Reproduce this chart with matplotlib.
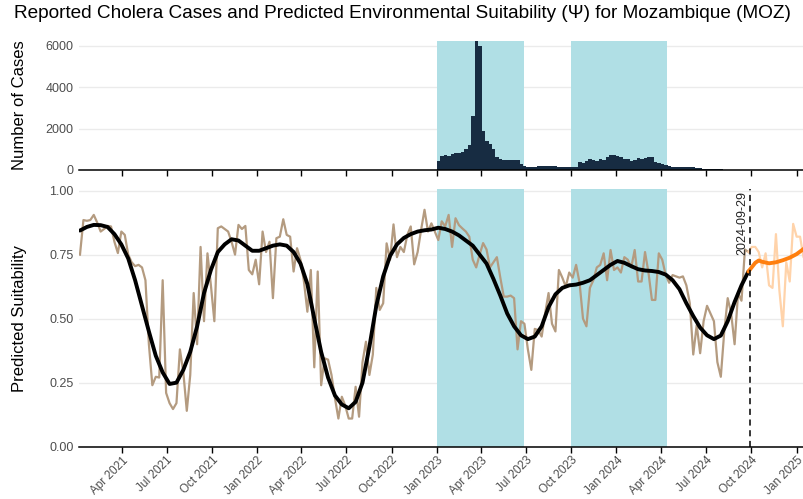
import numpy as np
import pandas as pd
import matplotlib
matplotlib.use("Agg")
import matplotlib.pyplot as plt
import matplotlib.dates as mdates

plt.rcParams['font.family'] = ['Liberation Sans', 'DejaVu Sans']

# weekly predicted suitability (observed period)
psi_obs = [
    0.75, 0.885, 0.882, 0.885, 0.905, 0.875, 0.84, 0.85, 0.862, 0.86,
    0.80, 0.756, 0.84, 0.827, 0.75, 0.72, 0.705, 0.71, 0.70, 0.65,
    0.40, 0.24, 0.273, 0.27, 0.65, 0.21, 0.17, 0.147, 0.17, 0.38,
    0.29, 0.14, 0.28, 0.60, 0.40, 0.78, 0.49, 0.755, 0.63, 0.49,
    0.853, 0.86, 0.85, 0.84, 0.80, 0.75, 0.866, 0.85, 0.862, 0.69,
    0.673, 0.73, 0.634, 0.84, 0.76, 0.80, 0.58, 0.814, 0.82, 0.888,
    0.827, 0.82, 0.684, 0.775, 0.73, 0.645, 0.527, 0.69, 0.31, 0.684,
    0.24, 0.345, 0.34, 0.28, 0.19, 0.11, 0.195, 0.16, 0.11, 0.11,
    0.234, 0.117, 0.33, 0.41, 0.28, 0.36, 0.62, 0.534, 0.56, 0.794,
    0.73, 0.868, 0.74, 0.78, 0.76, 0.827, 0.86, 0.712, 0.76, 0.846,
    0.925, 0.84, 0.872, 0.84, 0.807, 0.88, 0.86, 0.905, 0.78, 0.892,
    0.865, 0.852, 0.84, 0.82, 0.73, 0.70, 0.75, 0.795, 0.77, 0.70,
    0.72, 0.74, 0.66, 0.586, 0.586, 0.59, 0.58, 0.38, 0.49, 0.48,
    0.38, 0.30, 0.46, 0.455, 0.43, 0.52, 0.60, 0.48, 0.45, 0.69,
    0.66, 0.625, 0.68, 0.66, 0.71, 0.64, 0.50, 0.47, 0.62, 0.65,
    0.70, 0.71, 0.755, 0.65, 0.768, 0.69, 0.70, 0.68, 0.74, 0.73,
    0.70, 0.768, 0.645, 0.645, 0.76, 0.68, 0.573, 0.573, 0.755, 0.73,
    0.67, 0.64, 0.67, 0.665, 0.66, 0.665, 0.63, 0.56, 0.36, 0.475,
    0.365, 0.49, 0.55, 0.52, 0.49, 0.33, 0.273, 0.45, 0.58, 0.52,
    0.40, 0.60, 0.57, 0.77, 0.76,
]
# weekly forecast (starts at last observed week)
psi_fc = [0.76, 0.78, 0.78, 0.76, 0.70, 0.755, 0.63, 0.62, 0.83, 0.61,
          0.47, 0.72, 0.645, 0.87, 0.82, 0.82, 0.74, 0.72]

# smoothed fit, every second week of the observed period
smooth_val = [
    0.844, 0.858, 0.866, 0.865, 0.858, 0.83, 0.79, 0.735, 0.65, 0.55,
    0.45, 0.355, 0.29, 0.245, 0.25, 0.30, 0.37, 0.47, 0.60, 0.69,
    0.76, 0.79, 0.81, 0.805, 0.785, 0.765, 0.765, 0.775, 0.785, 0.79,
    0.785, 0.76, 0.715, 0.635, 0.50, 0.37, 0.27, 0.20, 0.165, 0.15,
    0.175, 0.25, 0.39, 0.55, 0.665, 0.745, 0.79, 0.815, 0.83, 0.84,
    0.845, 0.848, 0.855, 0.85, 0.84, 0.825, 0.805, 0.785, 0.75, 0.715,
    0.655, 0.59, 0.52, 0.47, 0.435, 0.42, 0.43, 0.47, 0.545, 0.595,
    0.62, 0.63, 0.633, 0.64, 0.65, 0.67, 0.69, 0.71, 0.725, 0.718,
    0.705, 0.693, 0.688, 0.686, 0.682, 0.672, 0.65, 0.615, 0.56, 0.51,
    0.465, 0.435, 0.42, 0.434, 0.49, 0.565, 0.63, 0.684,
]
smooth_fc_idx = [194, 196, 197, 198, 200, 202, 204, 206, 208, 210, 211]
smooth_fc_val = [0.684, 0.718, 0.727, 0.722, 0.716, 0.72, 0.728, 0.738, 0.752, 0.772, 0.78]

# weekly reported cases from 2023-01-01
cases = [450, 690, 726, 694, 774, 823, 840, 887, 1016, 1210, 2629, 6250, 6016,
         1903, 1419, 1258, 1016, 613, 532, 500, 500, 500, 484, 484, 290, 177,
         161, 145, 161, 194, 210, 194, 210, 177, 194, 161, 161, 145, 161, 161,
         161, 403, 323, 450, 532, 500, 452, 532, 500, 613, 742, 742, 694, 645,
         548, 548, 419, 500, 581, 532, 581, 613, 645, 371, 340, 290, 260, 194,
         161, 145, 145, 145, 129, 129, 129, 97, 97, 64, 64, 48, 48, 32, 32, 16,
         16, 16]

periods = [("2023-01-01", "2023-06-27"), ("2023-10-01", "2024-04-13")]
cutoff = "2024-09-29"

weeks = pd.date_range("2021-01-06", periods=212, freq="7D")
obs_dates = weeks[:len(psi_obs)]
fc_dates = weeks[len(psi_obs) - 1:len(psi_obs) - 1 + len(psi_fc)]
smooth_dates = weeks[::2][:len(smooth_val)]
case_dates = pd.date_range("2023-01-01", periods=len(cases), freq="7D")

shade = "#b0dfe5"
grey_txt = "#4d4d4d"
xlim = (pd.Timestamp("2021-01-04"), pd.Timestamp("2025-01-16"))

fig = plt.figure(figsize=(8.04, 4.99), dpi=100)
ax1 = fig.add_axes([79 / 804, 1 - 170 / 499, 725 / 804, 129.3 / 499])
ax2 = fig.add_axes([79 / 804, 1 - 446.7 / 499, 725 / 804, 257.4 / 499])

for ax in (ax1, ax2):
    for s in ("top", "right", "left"):
        ax.spines[s].set_visible(False)
    ax.spines["bottom"].set_color("black")
    ax.spines["bottom"].set_linewidth(1.1)
    ax.set_axisbelow(True)
    ax.grid(axis="y", color="#ebebeb", lw=1.0)
    ax.tick_params(axis="y", length=0, labelsize=9, labelcolor=grey_txt, pad=4)
    ax.tick_params(axis="x", length=4, width=1, color="black", labelsize=8.5,
                   labelcolor=grey_txt, pad=1.5)
    ax.xaxis.set_major_locator(mdates.MonthLocator(bymonth=[1, 4, 7, 10]))
    ax.xaxis.set_major_formatter(mdates.DateFormatter("%b %Y"))
    ax.set_xlim(*xlim)
    for a, b in periods:
        ax.axvspan(pd.Timestamp(a), pd.Timestamp(b), color=shade, lw=0, zorder=1)

# top: cases
ax1.bar(case_dates, cases, width=7, align="edge", color="#172c42", zorder=2)
ax1.set_ylim(0, max(cases))
ax1.set_yticks([0, 2000, 4000, 6000])
ax1.tick_params(axis="x", labelbottom=False)

# bottom: suitability
ax2.plot(obs_dates, psi_obs, color="#b49b80", lw=1.6, zorder=3)
ax2.plot(fc_dates, psi_fc, color="#ffd3aa", lw=1.6, zorder=3)
ax2.plot(smooth_dates, smooth_val, color="black", lw=2.8, zorder=4,
         solid_capstyle="round", solid_joinstyle="round")
ax2.plot(weeks[smooth_fc_idx], smooth_fc_val, color="#ff7f0e", lw=2.8, zorder=4,
         solid_capstyle="round", solid_joinstyle="round")
ax2.axvline(pd.Timestamp(cutoff), color="black", ls=(0, (4, 3)), lw=1.1, zorder=5)
ax2.text(pd.Timestamp(cutoff) - pd.Timedelta(days=5), 1.0, cutoff, rotation=90,
         ha="right", va="top", fontsize=9, color="#222222")
ax2.set_ylim(0, 1.005)
ax2.set_yticks([0, 0.25, 0.5, 0.75, 1.0])
ax2.set_yticklabels(["0.00", "0.25", "0.50", "0.75", "1.00"])
for lab in ax2.get_xticklabels():
    lab.set_rotation(45)
    lab.set_ha("right")
    lab.set_rotation_mode("anchor")

fig.text(20 / 804, 1 - 105 / 499, "Number of Cases", rotation=90, ha="center",
         va="center", fontsize=12)
fig.text(20 / 804, 1 - 318 / 499, "Predicted Suitability", rotation=90,
         ha="center", va="center", fontsize=12)
fig.text(0.5, 1 - 14 / 499,
         "Reported Cholera Cases and Predicted Environmental Suitability (\u03a8) for Mozambique (MOZ)",
         ha="center", va="center", fontsize=13.7)

fig.savefig("out.png", dpi=100)
